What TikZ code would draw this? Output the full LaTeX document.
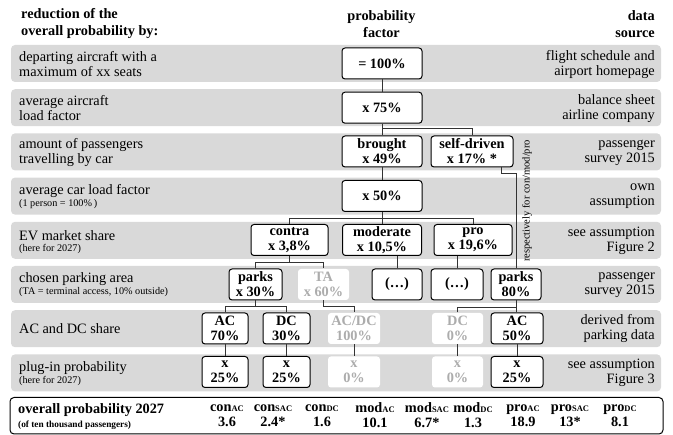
\documentclass[tikz,border=0pt]{standalone}
\usepackage{fontspec}
\setmainfont{Liberation Serif}
\newcommand{\bigf}{\fontsize{14.3}{15}\selectfont}
\newcommand{\smallf}{\fontsize{10.2}{11}\selectfont}
\newcommand{\subf}[1]{{\fontsize{8.5}{9}\selectfont #1}}
\begin{document}
\begin{tikzpicture}[x=1pt,y=-1pt,
  band/.style={fill=gray!30, rounded corners=4pt},
  bx/.style={draw=black, line width=1pt, rounded corners=3pt, fill=white, align=center,
    inner sep=0pt, minimum height=31pt, font=\bfseries\bigf},
  ghost/.style={bx, draw=none, text=gray!65},
  conn/.style={draw=black!80, line width=0.7pt},
  lbl/.style={anchor=west, align=left, inner sep=0pt, font=\bigf},
  lbls/.style={anchor=west, align=left, inner sep=0pt, font=\smallf},
  src/.style={anchor=east, align=right, inner sep=0pt, font=\bigf},
  hdr/.style={inner sep=0pt, font=\bfseries\fontsize{14.3}{17}\selectfont},
  val/.style={inner sep=0pt, align=center, font=\bfseries\fontsize{14.3}{15}\selectfont}
]
\useasboundingbox (0,0) rectangle (673,435);
% bands
\foreach \i in {0,...,7}{
  \fill[band] (11,{45+44.2*\i}) rectangle (661,{82+44.2*\i});
}
% headers
\node[hdr, anchor=west, align=left] (hL) at (21,24) {reduction of the\\overall probability by:};
\node[hdr, align=center] (hM) at (381.5,24) {probability\\factor};
\node[hdr, anchor=east, align=right] (hR) at (655,24) {data\\source};
% left labels
\node[lbl] (l1) at (19,64.5) {departing aircraft with a\\maximum of xx seats};
\node[lbl] (l2) at (19,108.5) {average aircraft\\load factor};
\node[lbl] (l3) at (19,152.5) {amount of passengers\\travelling by car};
\node[lbl] (l4) at (19,190.7) {average car load factor};
\node[lbls] (l4s) at (19,204.3) {(1 person = 100\%\,)};
\node[lbl] (l5) at (19,235.7) {EV market share};
\node[lbls] (l5s) at (19,249) {(here for 2027)};
\node[lbl] (l6) at (19,279.3) {chosen parking area};
\node[lbls] (l6s) at (19,291.7) {(TA = terminal access, 10\% outside)};
\node[lbl] (l7) at (19,328.3) {AC and DC share};
\node[lbl] (l8) at (19,367.7) {plug-in probability};
\node[lbls] (l8s) at (19,380.7) {(here for 2027)};
% right labels
\node[src] (r1) at (655,64.5) {flight schedule and\\airport homepage};
\node[src] (r2) at (655,108.5) {balance sheet\\airline company};
\node[src] (r3) at (655,152.5) {passenger\\survey 2015};
\node[src] (r4) at (655,196.5) {own\\assumption};
\node[src] (r5) at (655,240.5) {see assumption\\Figure 2};
\node[src] (r6) at (655,284.5) {passenger\\survey 2015};
\node[src] (r7) at (655,328.7) {derived from\\parking data};
\node[src] (r8) at (655,373) {see assumption\\Figure 3};
% boxes
\node[bx, minimum width=80pt] (p100) at (382,63.5) {= 100\%};
\node[bx, minimum width=80pt] (p75) at (382,107.7) {x 75\%};
\node[bx, minimum width=80pt] (brought) at (382,151.5) {brought\\x 49\%};
\node[bx, minimum width=82pt] (self) at (472,151.5) {self-driven\\x 17\% *};
\node[bx, minimum width=80pt] (p50) at (382,196) {x 50\%};
\node[bx, minimum width=77pt] (contra) at (289.5,240) {contra\\x 3,8\%};
\node[bx, minimum width=79pt] (moderate) at (382,240) {moderate\\x 10,5\%};
\node[bx, minimum width=78pt] (pro) at (473,240) {pro\\x 19,6\%};
\node[bx, minimum width=53pt] (parksA) at (255.5,284.5) {parks\\x 30\%};
\node[ghost, minimum width=51pt] (TA) at (323.5,284.5) {TA\\x 60\%};
\node[bx, minimum width=50pt] (dotsA) at (397,284.5) {(\dots)};
\node[bx, minimum width=52pt] (dotsB) at (457,284.5) {(\dots)};
\node[bx, minimum width=50pt] (parksB) at (516,284.5) {parks\\80\%};
\node[bx, minimum width=46pt] (acA) at (225,328.5) {AC\\70\%};
\node[bx, minimum width=47pt] (dcA) at (286.5,328.5) {DC\\30\%};
\node[ghost, minimum width=52pt] (acdc) at (354,328.5) {AC/DC\\100\%};
\node[ghost, minimum width=51pt] (dcB) at (457.5,328.5) {DC\\0\%};
\node[bx, minimum width=52pt] (acB) at (517,328.5) {AC\\50\%};
\node[bx, minimum width=46pt] (xA) at (225,372) {x\\25\%};
\node[bx, minimum width=47pt] (xB) at (286.5,372) {x\\25\%};
\node[ghost, minimum width=52pt] (xC) at (354,372) {x\\0\%};
\node[ghost, minimum width=51pt] (xD) at (457.5,372) {x\\0\%};
\node[bx, minimum width=52pt] (xE) at (517,372) {x\\25\%};
% rotated note
\node[rotate=90, inner sep=0pt, font=\fontsize{10.5}{11}\selectfont] (resp) at (527,201) {respectively for con/mod/pro};
% connectors
\draw[conn] (p100.south) -- (p75.north);
\draw[conn] (p75.south) -- (brought.north);
\draw[conn] (p75.south) -- ++(0,5) -| (self.north);
\draw[conn] (brought.south) -- (p50.north);
\draw[conn] (p50.south) -- (moderate.north);
\draw[conn] (contra.north) |- ([yshift=-6.5pt]p50.south) -| (pro.north);
\draw[conn] ([xshift=-12pt]self.south east) -- ++(0,6) -| (parksB.north);
\draw[conn] (dotsA.north) -- (dotsA.north |- moderate.south);
\draw[conn] (dotsB.north) -- (dotsB.north |- pro.south);
\draw[conn] (contra.south) -- ++(0,6.5);
\draw[conn] (parksA.north) |- ([yshift=-6.5pt]contra.south) -| (TA.north);
\draw[conn] (parksA.south) -- ++(0,6);
\draw[conn] (acA.north) |- ([yshift=-6pt]parksA.south) -| (dcA.north);
\draw[conn] (TA.south) -- ++(0,6) -| (acdc.north);
\draw[conn] (parksB.south) -- (acB.north -| parksB.south);
\draw[conn] (dcB.north) |- ([yshift=-6.5pt]parksB.south);
\draw[conn] (acA.south) -- (xA.north);
\draw[conn] (dcA.south) -- (xB.north);
\draw[conn] (acdc.south) -- (xC.north);
\draw[conn] (dcB.south) -- (xD.north);
\draw[conn] (acB.south) -- (xE.north);
% bottom box
\draw[line width=1pt, rounded corners=4pt] (10,397.5) rectangle (663,434);
\node[inner sep=0pt, anchor=west, font=\bfseries\fontsize{14.3}{15}\selectfont] (ov) at (18,410) {overall probability 2027};
\node[inner sep=0pt, anchor=west, font=\bfseries\fontsize{9.3}{10}\selectfont] (ovs) at (18,425) {(of ten thousand passengers)};
\node[val] (v1) at (227,415.5) {con\subf{AC}\\3.6};
\node[val] (v2) at (273,415.5) {con\subf{SAC}\\2.4*};
\node[val] (v3) at (322,415.5) {con\subf{DC}\\1.6};
\node[val] (v4) at (375,415.5) {mod\subf{AC}\\10.1};
\node[val] (v5) at (427,415.5) {mod\subf{SAC}\\6.7*};
\node[val] (v6) at (473,415.5) {mod\subf{DC}\\1.3};
\node[val] (v7) at (523,415.5) {pro\subf{AC}\\18.9};
\node[val] (v8) at (570,415.5) {pro\subf{SAC}\\13*};
\node[val] (v9) at (620,415.5) {pro\subf{DC}\\8.1};
\end{tikzpicture}
\end{document}
